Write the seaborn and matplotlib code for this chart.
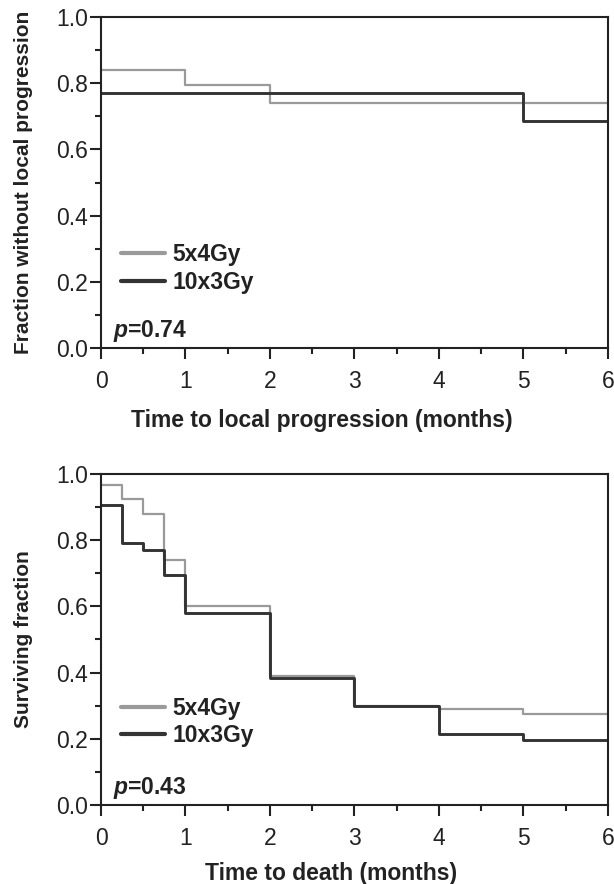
import pandas as pd
import matplotlib
matplotlib.use("Agg")
import matplotlib.pyplot as plt
from matplotlib.ticker import MultipleLocator, FormatStrFormatter
import seaborn as sns

# Style
sns.set_style("ticks")
plt.rcParams['font.family'] = ['Liberation Sans', 'DejaVu Sans']
plt.rcParams['mathtext.fontset'] = 'custom'
plt.rcParams['mathtext.it'] = 'Liberation Sans:italic:bold'
plt.rcParams['mathtext.rm'] = 'Liberation Sans:bold'

# -----------------------------
# DATA
# -----------------------------
groups = ["5x4Gy", "10x3Gy"]
colors = {"5x4Gy": "#9a9a9a", "10x3Gy": "#333333"}
widths = {"5x4Gy": 1.6, "10x3Gy": 2.1}

# local progression
lp_time_5x4 = [0, 1, 2, 6]
lp_frac_5x4 = [0.84, 0.795, 0.74, 0.74]
lp_time_10x3 = [0, 5, 6]
lp_frac_10x3 = [0.77, 0.685, 0.685]

# survival
os_time_5x4 = [0, 0.25, 0.5, 0.75, 1, 2, 3, 4, 5, 6]
os_frac_5x4 = [0.965, 0.925, 0.88, 0.74, 0.60, 0.39, 0.30, 0.29, 0.275, 0.275]
os_time_10x3 = [0, 0.25, 0.5, 0.75, 1, 2, 3, 4, 5, 6]
os_frac_10x3 = [0.905, 0.79, 0.77, 0.695, 0.58, 0.385, 0.30, 0.215, 0.195, 0.195]

p_values = ["0.74", "0.43"]
xlabels = ["Time to local progression (months)", "Time to death (months)"]
ylabels = ["Fraction without local progression", "Surviving fraction"]
legend_y = [0.317, 0.327]
xlabel_x = [0.436, 0.454]
xlabel_pad = [12, 9]

lp_df = pd.concat([
    pd.DataFrame({"time": lp_time_5x4, "frac": lp_frac_5x4, "group": "5x4Gy"}),
    pd.DataFrame({"time": lp_time_10x3, "frac": lp_frac_10x3, "group": "10x3Gy"}),
])
os_df = pd.concat([
    pd.DataFrame({"time": os_time_5x4, "frac": os_frac_5x4, "group": "5x4Gy"}),
    pd.DataFrame({"time": os_time_10x3, "frac": os_frac_10x3, "group": "10x3Gy"}),
])

# -----------------------------
# PLOT
# -----------------------------
fig = plt.figure(figsize=(6.14, 8.84), dpi=100)
ax_top = fig.add_axes([0.1645, 0.6060, 0.8255, 0.3750])
ax_bot = fig.add_axes([0.1645, 0.0893, 0.8255, 0.3747])

panels = [(ax_top, lp_df), (ax_bot, os_df)]
ink = '#222222'

for i, (ax, df) in enumerate(panels):
    for g in groups:
        sub = df[df["group"] == g]
        sns.lineplot(data=sub, x="time", y="frac", drawstyle="steps-post",
                     color=colors[g], linewidth=widths[g], label=g, ax=ax,
                     estimator=None, sort=False)

    ax.set_xlim(0, 6)
    ax.set_ylim(0, 1)
    ax.xaxis.set_major_locator(MultipleLocator(1))
    ax.xaxis.set_minor_locator(MultipleLocator(0.5))
    ax.yaxis.set_major_locator(MultipleLocator(0.2))
    ax.yaxis.set_minor_locator(MultipleLocator(0.1))
    ax.yaxis.set_major_formatter(FormatStrFormatter('%.1f'))
    ax.tick_params(which='major', length=8, width=1.5, labelsize=16.5,
                   color=ink, labelcolor=ink)
    ax.tick_params(which='minor', length=4.5, width=1.5, color=ink)
    ax.tick_params(axis='x', which='major', pad=7.5)
    ax.tick_params(axis='y', which='major', pad=1.5)
    for s in ax.spines.values():
        s.set_linewidth(1.5)
        s.set_color(ink)

    ax.set_xlabel(xlabels[i], fontsize=16.5, fontweight='bold',
                  labelpad=xlabel_pad[i], color=ink)
    ax.xaxis.label.set_x(xlabel_x[i])
    ax.set_ylabel(ylabels[i], fontsize=15, fontweight='bold', color=ink)
    ax.yaxis.set_label_coords(-0.134, 0.5)

    leg = ax.legend(loc='upper left', bbox_to_anchor=(0.04, legend_y[i]),
                    frameon=False, handlelength=1.9, handletextpad=0.35,
                    labelspacing=0.2, borderaxespad=0, borderpad=0,
                    prop={'weight': 'bold', 'size': 16.5})
    for h in leg.get_lines():
        h.set_linewidth(3)
    for t in leg.get_texts():
        t.set_color(ink)

    ax.text(0.024, 0.012, r"$p$=" + p_values[i], transform=ax.transAxes,
            fontsize=16.5, fontweight='bold', color=ink,
            ha='left', va='bottom')

plt.savefig("out.png", dpi=100)
